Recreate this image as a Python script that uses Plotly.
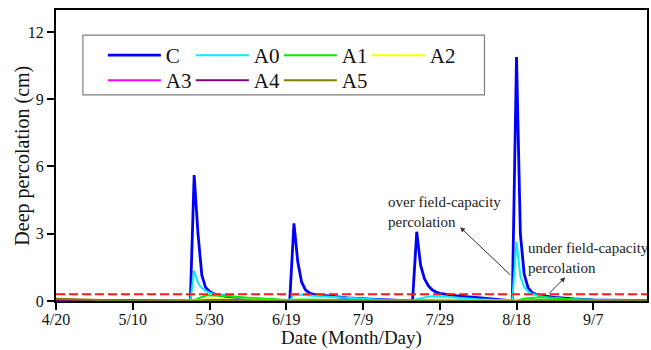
import plotly.graph_objects as go

# ---- data (x = days after 4/20) ----
tick_days = [0, 20, 40, 60, 80, 100, 120, 140]
tick_labels = ["4/20", "5/10", "5/30", "6/19", "7/9", "7/29", "8/18", "9/7"]
y_ticks = [0, 3, 6, 9, 12]

c_days = [0, 35, 36, 37, 38, 39, 40, 41, 42, 44, 48, 55, 60.9,
          62, 63, 64, 65, 66, 67, 69, 72, 76, 82, 88, 92.9,
          94, 95, 96, 97, 98, 99, 100, 102, 105, 110, 115, 118.9,
          120, 121, 122, 123, 124, 125, 127, 130, 135, 140, 154]
c_vals = [0, 0, 5.62, 3.0, 1.15, 0.6, 0.42, 0.33, 0.29, 0.22, 0.13, 0.05, 0,
          3.46, 1.75, 0.85, 0.5, 0.36, 0.3, 0.26, 0.2, 0.14, 0.08, 0.04, 0,
          3.09, 1.6, 1.0, 0.68, 0.5, 0.4, 0.34, 0.28, 0.22, 0.15, 0.08, 0,
          10.88, 3.0, 1.2, 0.6, 0.38, 0.3, 0.23, 0.16, 0.09, 0.05, 0.02]

a0_days = [0, 35, 36, 37, 38, 39, 40, 41, 43, 46, 50, 55, 60.9,
           62, 64, 67, 70, 75, 80, 86, 92.9, 95, 97, 100, 104, 110, 118.9,
           120, 121, 122, 123, 124, 126, 128, 132, 138, 145, 154]
a0_vals = [0, 0, 1.35, 0.8, 0.58, 0.45, 0.37, 0.32, 0.27, 0.2, 0.12, 0.06, 0.02,
           0.3, 0.26, 0.23, 0.2, 0.15, 0.1, 0.05, 0.02, 0.12, 0.2, 0.21, 0.15, 0.08, 0.02,
           2.65, 1.1, 0.62, 0.42, 0.32, 0.22, 0.16, 0.1, 0.05, 0.02, 0.01]

a1_days = [0, 35, 36, 37, 38, 39.5, 42, 45, 50, 55, 60, 64, 70, 80, 92,
           96, 100, 110, 119, 120, 122, 124, 126, 128, 131, 135, 140, 154]
a1_vals = [0.02, 0.01, 0.03, 0.1, 0.18, 0.26, 0.25, 0.21, 0.15, 0.09, 0.05, 0.07, 0.06, 0.03, 0.01,
           0.05, 0.06, 0.03, 0.01, 0.02, 0.1, 0.15, 0.17, 0.16, 0.12, 0.07, 0.04, 0.01]

a2_days = [0, 36, 40, 45, 55, 62, 70, 94, 100, 120, 126, 135, 154]
a2_vals = [0.02, 0.01, 0.08, 0.07, 0.03, 0.03, 0.01, 0.01, 0.03, 0.01, 0.05, 0.02, 0.0]

a3_days = [0, 10, 36, 42, 55, 120, 126, 154]
a3_vals = [0.04, 0.02, 0.0, 0.04, 0.01, 0.0, 0.03, 0.0]

a4_days = [0, 10, 36, 42, 55, 120, 126, 154]
a4_vals = [0.06, 0.03, 0.0, 0.03, 0.01, 0.0, 0.02, 0.0]

a5_days = [0, 4, 8, 12, 18, 25, 35, 42, 55, 120, 126, 154]
a5_vals = [0.1, 0.09, 0.06, 0.04, 0.02, 0.01, 0.0, 0.02, 0.0, 0.0, 0.02, 0.0]

threshold = 0.3

series = [
    ("C", c_days, c_vals, "#0000ff", 2.8, "legend"),
    ("A0", a0_days, a0_vals, "#00f0ff", 2, "legend"),
    ("A1", a1_days, a1_vals, "#00ee00", 2, "legend"),
    ("A2", a2_days, a2_vals, "#ffff00", 2, "legend"),
    ("A3", a3_days, a3_vals, "#ff00ff", 2, "legend2"),
    ("A4", a4_days, a4_vals, "#800080", 2, "legend2"),
    ("A5", a5_days, a5_vals, "#808000", 2, "legend2"),
]

FONT = "Liberation Serif, Times New Roman, serif"

fig = go.Figure()
for name, xd, yd, color, w, lg in series:
    fig.add_trace(go.Scatter(x=xd, y=yd, mode="lines", name=name,
                             line=dict(color=color, width=w), legend=lg))

# threshold line
fig.add_shape(type="line", xref="paper", x0=0, x1=1, yref="y", y0=threshold, y1=threshold,
              line=dict(color="#ff1a1a", width=2, dash="9px,4px"), layer="above")

# legend box
fig.add_shape(type="rect", xref="paper", yref="paper", x0=0.0455, x1=0.725, y0=0.708, y1=0.914,
              line=dict(color="#7f7f7f", width=1.2), fillcolor="rgba(0,0,0,0)", layer="below")

# axis titles
fig.add_annotation(x=0.5, y=-0.1684, xref="paper", yref="paper", text="Date (Month/Day)",
                   showarrow=False, xanchor="center", yanchor="bottom", borderpad=0,
                   font=dict(family=FONT, size=19, color="#111"))
fig.add_annotation(x=-0.0573, y=0.5, xref="paper", yref="paper", text="Deep percolation (cm)",
                   showarrow=False, xanchor="center", yanchor="middle", textangle=-90,
                   font=dict(family=FONT, size=20, color="#111"))

# annotations
fig.add_annotation(x=86.1, y=3.99, xref="x", yref="y", text="over field-capacity<br>percolation",
                   showarrow=False, xanchor="left", yanchor="middle", align="left",
                   font=dict(family=FONT, size=15, color="#222"))
fig.add_annotation(x=122.4, y=1.9, xref="x", yref="y", text="under field-capacity<br>percolation",
                   showarrow=False, xanchor="left", yanchor="middle", align="left",
                   font=dict(family=FONT, size=15, color="#222"))
fig.add_annotation(x=105.3, y=3.29, ax=118.8, ay=1.1, xref="x", yref="y", axref="x", ayref="y",
                   text="", showarrow=True, arrowhead=2, arrowsize=1, arrowwidth=1, arrowcolor="#333",
                   standoff=0, startstandoff=0)
fig.add_annotation(x=132.7, y=1.06, ax=128.1, ay=0.27, xref="x", yref="y", axref="x", ayref="y",
                   text="", showarrow=True, arrowhead=2, arrowsize=1, arrowwidth=1, arrowcolor="#333",
                   standoff=0, startstandoff=0)

axis_common = dict(showgrid=False, zeroline=False, showline=True, linewidth=2, linecolor="black",
                   mirror=True, ticks="outside", ticklen=7, tickwidth=1.5, tickcolor="black",
                   tickfont=dict(family=FONT, size=16, color="#111"))

legend_common = dict(orientation="h", xanchor="left", yanchor="top",
                     entrywidth=20, entrywidthmode="pixels", itemwidth=53,
                     font=dict(family=FONT, size=21, color="#111"),
                     bgcolor="rgba(0,0,0,0)", borderwidth=0)

fig.update_layout(
    width=651, height=350,
    margin=dict(l=56, r=2, t=10, b=49),
    paper_bgcolor="white", plot_bgcolor="white",
    font=dict(family=FONT, color="#111"),
    xaxis=dict(range=[0, 154], tickmode="array", tickvals=tick_days, ticktext=tick_labels,
               ticklabelstandoff=-4, **axis_common),
    yaxis=dict(range=[0, 12.98], tickmode="array", tickvals=y_ticks, **axis_common),
    legend=dict(x=0.0793, y=0.914, **legend_common),
    legend2=dict(x=0.0793, y=0.828, **legend_common),
    showlegend=True,
)

fig.write_html("out.html")
